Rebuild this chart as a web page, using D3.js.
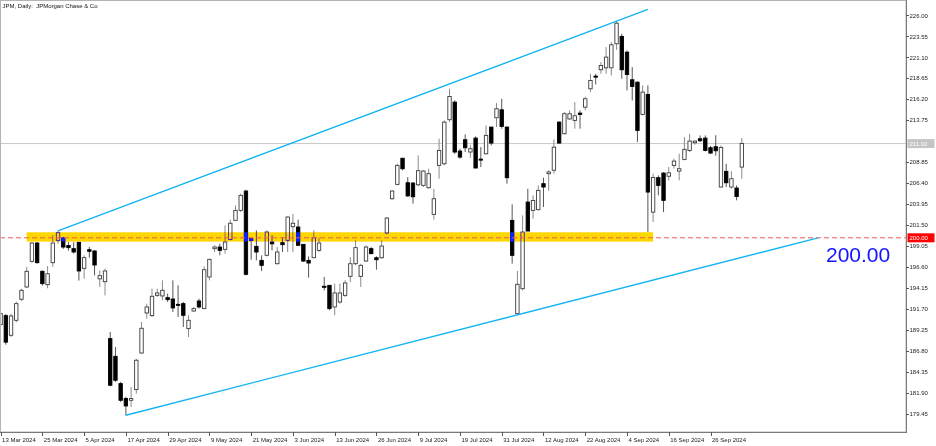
<!DOCTYPE html>
<html><head><meta charset="utf-8">
<script src="https://cdn.jsdelivr.net/npm/d3@7"></script>
<style>
html,body{margin:0;padding:0;background:#fff;}
svg{display:block;background:#fff;}
text{font-family:"Liberation Sans",Arial,sans-serif;}
</style></head>
<body>
<svg id="c" width="936" height="446"></svg>
<script>
// ---- data ----
const title = "JPM, Daily:  JPMorgan Chase & Co";
const tradingDays = {
  Mar:[13,14,15,18,19,20,21,22,25,26,27,28],
  Apr:[1,2,3,4,5,8,9,10,11,12,15,16,17,18,19,22,23,24,25,26,29,30],
  May:[1,2,3,6,7,8,9,10,13,14,15,16,17,20,21,22,23,24,28,29,30,31],
  Jun:[3,4,5,6,7,10,11,12,13,14,17,18,20,21,24,25,26,27,28],
  Jul:[1,2,3,5,8,9,10,11,12,15,16,17,18,19,22,23,24,25,26,29,30,31],
  Aug:[1,2,5,6,7,8,9,12,13,14,15,16,19,20,21,22,23,26,27,28,29,30],
  Sep:[3,4,5,6,9,10,11,12,13,16,17,18,19,20,23,24,25,26,27,30],
  Oct:[1,2,3,4]
};
const open  = [189.85,190.9,188.6,190.35,192.81,194.25,197.25,199.39,196.08,194.52,197.09,199.7,199.98,199.1,198.73,199.47,196.43,198.61,198.46,195.2,194.87,188.21,186.14,182.95,181.2,181.0,182.25,186.53,191.21,190.9,193.27,193.2,193.0,192.84,192.22,192.3,189.38,191.44,192.61,191.72,195.42,198.73,198.92,198.65,199.8,202.04,203.21,205.47,199.9,199.0,197.36,197.95,199.5,196.97,199.43,199.7,201.3,201.26,199.23,197.36,197.67,198.53,194.33,194.44,191.91,192.49,193.27,195.49,196.97,195.49,197.28,198.73,197.67,197.67,200.56,204.57,206.25,209.3,206.44,206.4,206.2,206.13,205.86,202.74,208.47,208.66,213.81,215.87,210.14,211.47,210.03,211.66,209.2,209.83,212.95,214.04,214.97,212.95,202.04,191.13,194.05,204.18,203.21,203.29,206.33,207.5,207.9,213.53,212.17,213.9,213.73,214.58,215.28,217.43,218.91,219.65,219.88,219.88,222.69,223.55,221.71,218.48,218.2,214.43,216.77,203.0,207.03,207.57,207.2,208.47,207.8,209.17,210.22,211.12,211.58,211.66,210.53,210.65,205.94,207.77,205.94,205.82,208.27];
const high  = [191.3,191.1,191.13,192.55,194.05,196.6,199.5,199.5,196.2,196.7,200.3,200.8,200.1,199.5,199.5,199.5,197.95,198.92,198.53,196.2,196.39,188.99,187.23,183.15,181.4,182.56,185.87,190.16,192.3,194.05,194.05,195.03,193.47,195.03,194.44,192.49,190.94,191.91,192.88,196.66,197.56,199.12,199.31,201.46,202.12,203.79,205.16,205.62,200.0,200.87,197.95,200.87,200.3,198.92,200.09,202.5,202.8,202.12,199.23,197.83,200.87,200.01,195.42,194.44,194.64,194.64,195.03,197.75,199.7,196.97,199.12,198.92,197.83,199.7,202.43,205.55,208.66,209.36,207.1,206.52,209.64,207.9,208.08,205.74,211.59,213.73,217.43,216.07,210.42,212.09,210.81,211.86,210.61,213.14,212.95,215.75,216.26,213.0,203.91,196.12,202.63,205.74,204.96,206.13,207.03,207.9,211.5,213.6,214.7,214.9,215.87,214.9,216.5,219.18,219.18,220.54,222.3,222.88,225.34,223.86,221.9,219.96,218.3,217.82,217.82,207.5,207.3,207.69,208.3,209.25,209.83,211.78,212.17,211.4,211.97,211.97,210.73,212.0,210.8,208.66,207.77,206.13,211.66];
const low   = [189.6,187.5,188.4,190.1,192.6,194.1,197.1,197.0,194.4,194.1,196.6,199.3,198.7,198.5,198.15,195.0,195.22,197.68,195.61,194.25,193.27,182.64,183.15,180.81,179.25,180.22,181.78,186.46,190.54,190.74,193.08,192.69,192.49,191.33,190.74,189.57,188.4,191.33,191.72,191.68,195.03,198.34,197.95,198.15,199.7,201.96,203.0,195.61,197.44,197.36,196.12,197.83,198.53,196.9,198.34,198.34,198.34,199.12,197.17,195.34,197.67,198.34,193.86,191.52,190.94,192.3,193.08,194.83,196.78,194.25,197.17,198.07,196.27,197.56,200.4,204.45,206.13,207.88,204.77,203.99,206.0,205.94,205.74,202.12,206.91,208.47,213.53,209.83,209.25,210.03,209.36,208.16,208.27,209.75,210.8,212.95,212.76,206.33,196.98,191.0,193.86,200.79,202.24,203.21,203.6,205.5,207.5,211.0,212.1,213.8,212.76,212.76,214.9,217.04,217.93,219.18,219.18,218.98,221.99,218.6,217.23,216.06,211.2,214.3,200.67,201.85,204.96,203.0,206.7,208.08,206.72,209.05,210.03,210.9,211.2,210.1,209.79,209.6,205.9,205.94,205.74,204.38,206.91];
const close = [191.13,187.8,190.86,192.3,193.86,196.08,199.39,197.09,194.64,195.8,199.39,200.6,198.92,198.85,198.34,196.12,197.68,198.42,196.82,195.57,196.12,182.76,183.34,181.0,180.34,181.2,185.68,189.42,191.91,193.16,193.55,193.86,192.77,191.8,192.14,190.94,190.35,191.72,191.91,196.27,197.48,198.92,198.53,199.5,201.7,203.21,204.96,195.73,199.7,198.34,196.78,200.68,199.3,198.34,199.2,202.43,201.7,199.12,197.28,197.05,200.01,199.39,194.25,191.72,193.55,193.55,194.72,196.97,198.85,196.78,198.92,198.15,197.44,199.04,202.31,205.47,208.47,208.08,204.9,204.8,207.85,207.81,207.5,204.57,210.22,213.53,216.53,210.03,209.44,210.53,210.42,208.16,209.1,211.98,211.08,215.09,213.03,207.03,197.95,194.56,200.68,200.79,204.37,205.55,205.94,207.7,210.6,211.08,214.51,214.5,214.27,214.43,216.26,218.4,218.79,220.15,221.13,222.57,225.1,219.65,219.1,217.7,212.56,217.04,205.35,207.06,206.13,204.38,207.6,208.97,208.08,210.34,211.31,211.31,211.35,210.22,209.91,210.18,210.57,206.44,206.91,204.84,211.04];
const priceTicks = ["226.00","223.55","221.10","218.65","216.20","213.75","208.85","206.40","203.95","201.50","199.05","196.60","194.15","191.70","189.25","186.80","184.35","181.90","179.45"];
const dateTicks = ["13 Mar 2024","25 Mar 2024","5 Apr 2024","17 Apr 2024","29 Apr 2024","9 May 2024","21 May 2024","3 Jun 2024","13 Jun 2024","26 Jun 2024","9 Jul 2024","19 Jul 2024","31 Jul 2024","12 Aug 2024","22 Aug 2024","4 Sep 2024","16 Sep 2024","26 Sep 2024"];
const currentPrice = 211.02;
const levelPrice = 200.00;
const levelLabel = "200.00";
const zoneFrom = "20 Mar 2024", zoneTo = "11 Sep 2024";
const zoneTop = 200.65, zoneBottom = 199.55;
// trend lines: [bar index, price]
const upperTrend = [[11, 200.8], [124, 226.72]];
const lowerTrend = [[24, 179.25], [156.6, 200.0]];

// ---- build ----
const dates = [];
Object.entries(tradingDays).forEach(([m, ds]) => ds.forEach(d => dates.push(d + " " + m + " 2024")));
const bars = dates.map((d, i) => ({d, i, o: open[i], h: high[i], l: low[i], c: close[i]}));

const W = 936, H = 446, plotR = 906, plotB = 432;
const svg = d3.select("#c");
const x = d3.scaleLinear().domain([0, dates.length - 1]).range([0.6, 741.84]);
const y = d3.scaleLinear().domain([177.29, 227.81]).range([plotB, 0]);
const bw = 3.4;

svg.append("rect").attr("x", 0).attr("y", 0).attr("width", W).attr("height", H).attr("fill", "#fff");

// current price line
svg.append("line").attr("x1", 0).attr("x2", plotR).attr("y1", y(currentPrice)).attr("y2", y(currentPrice))
  .attr("stroke", "#c8c8c8").attr("stroke-width", 1);

// candles
const g = svg.append("g");
g.selectAll("line.w").data(bars).join("line")
  .attr("x1", b => x(b.i)).attr("x2", b => x(b.i))
  .attr("y1", b => y(b.h)).attr("y2", b => y(b.l))
  .attr("stroke", b => b.c >= b.o ? "#8a8a8a" : "#555").attr("stroke-width", 1);
g.selectAll("rect.b").data(bars).join("rect")
  .attr("x", b => x(b.i) - bw / 2)
  .attr("y", b => y(Math.max(b.o, b.c)))
  .attr("width", bw)
  .attr("height", b => Math.max(1, Math.abs(y(b.o) - y(b.c))))
  .attr("fill", b => b.c >= b.o ? "#fff" : "#000")
  .attr("stroke", b => b.c >= b.o ? "#3c3c3c" : "#000")
  .attr("stroke-width", 0.9);

// zone rectangle (XOR-like)
const zi0 = dates.indexOf(zoneFrom), zi1 = dates.indexOf(zoneTo);
svg.append("rect")
  .attr("x", x(zi0)).attr("width", x(zi1) - x(zi0))
  .attr("y", y(zoneTop)).attr("height", y(zoneBottom) - y(zoneTop))
  .attr("fill", "rgb(0,40,255)").style("mix-blend-mode", "difference");

// level dashed line
svg.append("line").attr("x1", 0).attr("x2", plotR).attr("y1", y(levelPrice)).attr("y2", y(levelPrice))
  .attr("stroke", "#ee5a5a").attr("stroke-width", 1).attr("stroke-dasharray", "5,3");

// trend lines
const tl = d3.line().x(p => x(p[0])).y(p => y(p[1]));
[upperTrend, lowerTrend].forEach(t => svg.append("path").attr("d", tl(t))
  .attr("fill", "none").attr("stroke", "#12b4f4").attr("stroke-width", 1.4));

// big label
svg.append("text").attr("x", 826).attr("y", 262).text(levelLabel)
  .attr("fill", "#1414ff").attr("font-size", 21);

// frame
svg.append("rect").attr("x", 0.5).attr("y", 0.5).attr("width", plotR - 0.5).attr("height", plotB - 0.5)
  .attr("fill", "none").attr("stroke", "#b4b4b4");
svg.append("line").attr("x1", plotR + 0.5).attr("x2", plotR + 0.5).attr("y1", 0).attr("y2", plotB + 1).attr("stroke", "#7a7a7a");
svg.append("line").attr("x1", 0).attr("x2", plotR + 1).attr("y1", plotB + 0.5).attr("y2", plotB + 0.5).attr("stroke", "#7a7a7a");

// price axis
const ya = svg.append("g");
priceTicks.forEach(t => {
  const v = +t, yy = Math.round(y(v)) + 0.5;
  ya.append("line").attr("x1", plotR).attr("x2", plotR + 3).attr("y1", yy).attr("y2", yy).attr("stroke", "#555");
  ya.append("text").attr("x", 909.5).attr("y", y(v)).attr("dy", "0.36em").text(t)
    .attr("font-size", 6).attr("fill", "#222");
});
function tag(v, txt, bg) {
  const yy = y(v);
  ya.append("rect").attr("x", 907.5).attr("y", yy - 4.5).attr("width", 27).attr("height", 9).attr("fill", bg);
  ya.append("text").attr("x", 909.5).attr("y", yy).attr("dy", "0.36em").text(txt)
    .attr("font-size", 6).attr("fill", "#fff");
}
tag(currentPrice, currentPrice.toFixed(2), "#c4c4c4");
tag(levelPrice, levelPrice.toFixed(2), "#ff0000");

// date axis
dateTicks.forEach(t => {
  const i = dates.indexOf(t);
  const xx = Math.round(x(i)) + 0.5;
  svg.append("line").attr("x1", xx).attr("x2", xx).attr("y1", plotB).attr("y2", plotB + 4).attr("stroke", "#555");
  svg.append("text").attr("x", x(i) + 1.5).attr("y", 441.5).text(t).attr("font-size", 6).attr("fill", "#222");
});

// title
svg.append("text").attr("x", 2.5).attr("y", 8).text(title).attr("font-size", 6).attr("fill", "#111")
  .style("white-space", "pre");
</script>
</body></html>
